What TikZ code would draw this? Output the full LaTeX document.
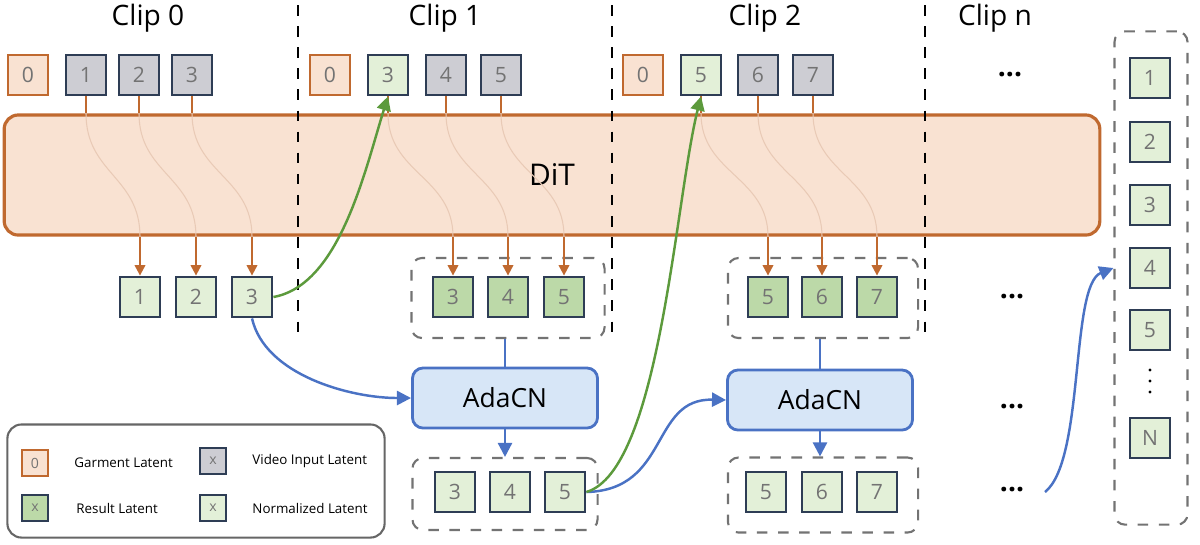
\documentclass[tikz,border=0pt]{standalone}
\usepackage{fontspec}
\setmainfont{Open Sans}
\usetikzlibrary{arrows.meta,calc}
\definecolor{ora}{HTML}{C0692F}
\definecolor{orf}{HTML}{F9E2D2}
\definecolor{gry}{HTML}{CDCDD3}
\definecolor{nav}{HTML}{2E3D55}
\definecolor{lgr}{HTML}{E3F0D8}
\definecolor{dgr}{HTML}{BCD9A8}
\definecolor{blu}{HTML}{4A72C4}
\definecolor{bluf}{HTML}{D7E6F7}
\definecolor{grn}{HTML}{5C9A3C}
\begin{document}
\begin{tikzpicture}[x=0.01cm,y=-0.01cm,
  lat/.style={minimum size=0.4cm,inner sep=0,line width=0.8pt,text=black!55,font=\fontsize{6}{7}\selectfont},
  garm/.style={lat,draw=ora,fill=orf},
  vid/.style={lat,draw=nav,fill=gry},
  res/.style={lat,draw=nav,fill=dgr},
  nrm/.style={lat,draw=nav,fill=lgr},
  sml/.style={minimum size=0.26cm,font=\fontsize{4}{4}\selectfont},
  grp/.style={draw=black!55,dashed,rounded corners=3pt,line width=0.6pt},
  ada/.style={draw=blu,fill=bluf,rounded corners=3pt,line width=0.8pt,minimum width=1.85cm,minimum height=0.6cm,font=\fontsize{7.5}{8}\selectfont},
  oarr/.style={draw=ora,line width=0.6pt,-{Triangle[length=3pt,width=3pt]}},
  oln/.style={draw=ora,line width=0.6pt},
  faint/.style={draw=ora!35,line width=0.3pt},
  barr/.style={draw=blu,line width=0.7pt,-{Triangle[length=4pt,width=4pt]}},
  garr/.style={draw=grn,line width=0.7pt,-{Triangle[length=4pt,width=4pt]}},
  cliplab/.style={font=\fontsize{8}{9}\selectfont},
  dots/.style={font=\fontsize{8}{9}\selectfont\bfseries},
  leg/.style={font=\fontsize{3.8}{4}\selectfont,anchor=west},
  vsep/.style={draw=black,dashed,line width=0.6pt}]
\useasboundingbox (0,0) rectangle (1200,544);
% DiT
\node[draw=ora,fill=orf,line width=0.9pt,rounded corners=4pt,minimum width=10.95cm,minimum height=1.2cm,font=\fontsize{8.5}{9}\selectfont] (dit) at (552,175) {DiT};
% separators
\coordinate (s0t) at (298,5); \coordinate (s0b) at (298,335);
\coordinate (s1t) at (612,5); \coordinate (s1b) at (612,335);
\coordinate (s2t) at (925,5); \coordinate (s2b) at (925,335);
\draw[vsep] (s0t) -- (s0b); \draw[vsep] (s1t) -- (s1b); \draw[vsep] (s2t) -- (s2b);
% clip labels
\node[cliplab] (c0) at (148,18) {Clip 0};
\node[cliplab] (c1) at (445,18) {Clip 1};
\node[cliplab] (c2) at (765,18) {Clip 2};
\node[cliplab] (cn) at (995,18) {Clip n};
% top rows
\node[garm] (a0) at (28,75) {0};
\node[vid] (a1) at (86,75) {1};
\node[vid] (a2) at (139,75) {2};
\node[vid] (a3) at (192,75) {3};
\node[garm] (b0) at (330,75) {0};
\node[nrm] (b1) at (388,75) {3};
\node[vid] (b2) at (446,75) {4};
\node[vid] (b3) at (501,75) {5};
\node[garm] (d0) at (643,75) {0};
\node[nrm] (d1) at (701,75) {5};
\node[vid] (d2) at (758,75) {6};
\node[vid] (d3) at (813,75) {7};
\node[dots] (e0) at (1010,75) {...};
% outputs
\node[nrm] (o1) at (140,297) {1};
\node[nrm] (o2) at (196,297) {2};
\node[nrm] (o3) at (252,297) {3};
\node[res] (p1) at (453,297) {3};
\node[res] (p2) at (508,297) {4};
\node[res] (p3) at (564,297) {5};
\node[res] (q1) at (768,297) {5};
\node[res] (q2) at (822,297) {6};
\node[res] (q3) at (877,297) {7};
\node[dots] (e1) at (1012,297) {...};
\node[grp,minimum width=1.93cm,minimum height=0.8cm] (gp) at (508,298) {};
\node[grp,minimum width=1.9cm,minimum height=0.8cm] (gq) at (823,298) {};
% DiT flows
\foreach \t/\b in {a1/o1,a2/o2,a3/o3,b1/p1,b2/p2,b3/p3,d1/q1,d2/q2,d3/q3}{
  \coordinate (\t in) at (dit.north -| \t.south);
  \coordinate (\b out) at (dit.south -| \b.north);
  \draw[oln] (\t.south) -- (\t in);
  \draw[faint] (\t in) .. controls ($(\t in)+(0,60)$) and ($(\b out)+(0,-60)$) .. (\b out);
  \draw[oarr] (\b out) -- (\b.north);
}
% AdaCN
\node[ada] (ad1) at (505,398) {AdaCN};
\node[ada] (ad2) at (820,400) {AdaCN};
% normalized groups
\node[nrm] (r1) at (455,492) {3};
\node[nrm] (r2) at (510,492) {4};
\node[nrm] (r3) at (565,492) {5};
\node[nrm] (t1) at (766,492) {5};
\node[nrm] (t2) at (822,492) {6};
\node[nrm] (t3) at (877,492) {7};
\node[grp,minimum width=1.85cm,minimum height=0.72cm] (gr) at (505,494) {};
\node[grp,minimum width=1.9cm,minimum height=0.75cm] (gt) at (823,495) {};
\node[dots] (e2) at (1012,407) {...};
\node[dots] (e3) at (1012,490) {...};
% connectors
\draw[blu,line width=0.7pt] (gp.south -| ad1.north) -- (ad1.north);
\draw[barr] (ad1.south) -- (gr.north -| ad1.south);
\draw[blu,line width=0.7pt] (gq.south -| ad2.north) -- (ad2.north);
\draw[barr] (ad2.south) -- (gt.north -| ad2.south);
\draw[barr] (o3.south) .. controls (265,375) and (350,398) .. (ad1.west);
\draw[barr] (r3.east) .. controls (670,490) and (650,398) .. (ad2.west);
\draw[garr] (o3.east) .. controls (340,285) and (365,170) .. (b1.south);
\draw[garr] (r3.east) .. controls (660,470) and (675,200) .. (d1.south);
% right column
\node[grp,minimum width=0.73cm,minimum height=4.93cm] (col) at (1151,278) {};
\node[nrm] (n1) at (1150,78) {1};
\node[nrm] (n2) at (1150,142) {2};
\node[nrm] (n3) at (1150,205) {3};
\node[nrm] (n4) at (1150,268) {4};
\node[nrm] (n5) at (1150,330) {5};
\foreach \yy in {370,381,392} \fill (1150,\yy) circle (1.6);
\node[nrm] (nn) at (1150,438) {N};
\coordinate (cs) at (1045,492);
\draw[barr] (cs) .. controls (1085,460) and (1070,285) .. (col.west |- n4);
% legend
\node[draw=black!60,rounded corners=4pt,line width=0.6pt,minimum width=3.77cm,minimum height=1.13cm] (legbox) at (196,481) {};
\node[garm,sml] (l1) at (35,463) {0};
\node[leg] (l1t) at (62,463) {Garment Latent};
\node[vid,sml] (l2) at (213,461) {x};
\node[leg] (l2t) at (240,461) {Video Input Latent};
\node[res,sml] (l3) at (35,508) {x};
\node[leg] (l3t) at (64,508) {Result Latent};
\node[nrm,sml] (l4) at (213,508) {x};
\node[leg] (l4t) at (240,508) {Normalized Latent};
\end{tikzpicture}
\end{document}
